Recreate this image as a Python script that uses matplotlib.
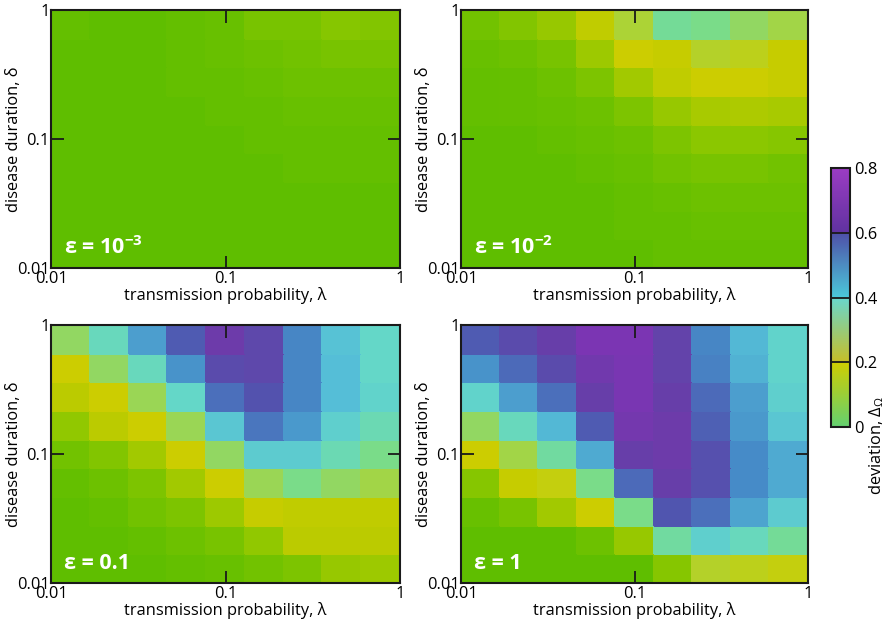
import numpy as np
import matplotlib
matplotlib.use("Agg")
import matplotlib.pyplot as plt
from matplotlib.colors import LinearSegmentedColormap, Normalize
from matplotlib.cm import ScalarMappable

plt.rcParams['font.family'] = ['Open Sans', 'DejaVu Sans']
plt.rcParams['mathtext.fontset'] = 'custom'
plt.rcParams['mathtext.rm'] = 'Open Sans'
plt.rcParams['mathtext.it'] = 'Open Sans:italic'
plt.rcParams['mathtext.bf'] = 'Open Sans:bold'

# ---------------- data (rows: top delta=1 -> bottom delta=0.01; cols: lambda 0.01 -> 1)
lam_edges = np.logspace(-2, 0, 10)
delta_edges = np.logspace(-2, 0, 10)

dev_eps_1e3 = [
    [0.01, 0.00, 0.00, 0.01, 0.02, 0.05, 0.05, 0.08, 0.07],
    [0.00, 0.00, 0.00, 0.01, 0.02, 0.03, 0.04, 0.05, 0.05],
    [0.00, 0.00, 0.00, 0.01, 0.01, 0.02, 0.03, 0.03, 0.03],
    [0.00, 0.00, 0.00, 0.00, 0.01, 0.01, 0.02, 0.02, 0.02],
    [0.00, 0.00, 0.00, 0.00, 0.00, 0.01, 0.01, 0.01, 0.01],
    [0.00, 0.00, 0.00, 0.00, 0.00, 0.00, 0.01, 0.01, 0.01],
    [0.00, 0.00, 0.00, 0.00, 0.00, 0.00, 0.00, 0.00, 0.00],
    [0.00, 0.00, 0.00, 0.00, 0.00, 0.00, 0.00, 0.00, 0.00],
    [0.00, 0.00, 0.00, 0.00, 0.00, 0.00, 0.00, 0.00, 0.00],
]

dev_eps_1e2 = [
    [0.04, 0.07, 0.11, 0.18, 0.24, 0.31, 0.30, 0.27, 0.25],
    [0.02, 0.03, 0.05, 0.12, 0.20, 0.19, 0.23, 0.22, 0.19],
    [0.01, 0.015, 0.03, 0.06, 0.13, 0.18, 0.20, 0.20, 0.19],
    [0.01, 0.015, 0.02, 0.03, 0.06, 0.11, 0.14, 0.15, 0.14],
    [0.00, 0.00, 0.01, 0.02, 0.03, 0.06, 0.09, 0.09, 0.08],
    [0.00, 0.00, 0.00, 0.01, 0.02, 0.04, 0.05, 0.05, 0.04],
    [0.00, 0.00, 0.00, 0.00, 0.01, 0.02, 0.03, 0.03, 0.03],
    [0.00, 0.00, 0.00, 0.00, 0.01, 0.01, 0.02, 0.02, 0.02],
    [0.00, 0.00, 0.00, 0.00, 0.00, 0.01, 0.01, 0.01, 0.01],
]

dev_eps_01 = [
    [0.27, 0.35, 0.47, 0.59, 0.71, 0.65, 0.51, 0.41, 0.36],
    [0.20, 0.27, 0.35, 0.49, 0.64, 0.65, 0.51, 0.42, 0.36],
    [0.17, 0.20, 0.26, 0.36, 0.55, 0.61, 0.51, 0.42, 0.37],
    [0.10, 0.17, 0.20, 0.26, 0.40, 0.54, 0.48, 0.38, 0.34],
    [0.04, 0.07, 0.13, 0.20, 0.27, 0.39, 0.39, 0.34, 0.30],
    [0.01, 0.03, 0.06, 0.13, 0.20, 0.26, 0.30, 0.27, 0.25],
    [0.00, 0.01, 0.04, 0.06, 0.12, 0.19, 0.18, 0.18, 0.18],
    [0.00, 0.00, 0.01, 0.03, 0.05, 0.10, 0.17, 0.17, 0.17],
    [0.00, 0.00, 0.00, 0.01, 0.02, 0.04, 0.06, 0.11, 0.12],
]

dev_eps_1 = [
    [0.59, 0.64, 0.69, 0.77, 0.77, 0.67, 0.51, 0.43, 0.37],
    [0.49, 0.56, 0.64, 0.73, 0.76, 0.67, 0.52, 0.44, 0.37],
    [0.37, 0.47, 0.55, 0.69, 0.76, 0.69, 0.56, 0.47, 0.38],
    [0.27, 0.35, 0.43, 0.59, 0.74, 0.71, 0.58, 0.48, 0.40],
    [0.20, 0.25, 0.32, 0.45, 0.69, 0.71, 0.62, 0.50, 0.45],
    [0.08, 0.19, 0.21, 0.30, 0.56, 0.69, 0.62, 0.50, 0.45],
    [0.02, 0.05, 0.13, 0.20, 0.30, 0.60, 0.55, 0.46, 0.39],
    [0.00, 0.00, 0.00, 0.03, 0.11, 0.32, 0.38, 0.35, 0.31],
    [0.00, 0.00, 0.00, 0.00, 0.00, 0.08, 0.23, 0.22, 0.21],
]

panel_data = [dev_eps_1e3, dev_eps_1e2, dev_eps_01, dev_eps_1]
panel_labels = [r"ε = 10$^{\mathbf{-3}}$", r"ε = 10$^{\mathbf{-2}}$",
                "ε = 0.1", "ε = 1"]
tick_vals = [0.01, 0.1, 1]
tick_labels = ["0.01", "0.1", "1"]
cbar_ticks = [0, 0.2, 0.4, 0.6, 0.8]
cbar_ticklabels = ["0", "0.2", "0.4", "0.6", "0.8"]

# ---------------- colormaps
heat_nodes = [
    (0.00, (95, 190, 0)),
    (0.10, (145, 200, 0)),
    (0.20, (205, 205, 0)),
    (0.30, (120, 220, 140)),
    (0.36, (100, 215, 200)),
    (0.42, (85, 190, 215)),
    (0.50, (70, 140, 200)),
    (0.60, (80, 85, 175)),
    (0.70, (106, 60, 168)),
    (0.80, (130, 50, 184)),
]
heat_cmap = LinearSegmentedColormap.from_list(
    "heat", [(v / 0.8, tuple(c / 255 for c in col)) for v, col in heat_nodes])

# colorbar key: piecewise segments with jumps
cb_nodes = [  # (value, left colour, right colour)
    (0.0, (100, 208, 112), (100, 208, 112)),
    (0.2, (208, 205, 0), (198, 190, 40)),
    (0.4, (105, 215, 205), (75, 200, 218)),
    (0.6, (78, 80, 168), (95, 50, 160)),
    (0.8, (155, 60, 195), (155, 60, 195)),
]
cdict = {k: [] for k in ("red", "green", "blue")}
for v, lc, rc in cb_nodes:
    for i, k in enumerate(("red", "green", "blue")):
        cdict[k].append((v / 0.8, lc[i] / 255, rc[i] / 255))
cb_cmap = LinearSegmentedColormap("cb", cdict)

norm = Normalize(vmin=0, vmax=0.8)

# ---------------- figure
W, H = 889, 629
fig = plt.figure(figsize=(W / 100, H / 100), dpi=100)

def fpos(l, t, r, b):
    return [l / W, 1 - b / H, (r - l) / W, (b - t) / H]

positions = [fpos(51, 10, 400, 268), fpos(461, 10, 808, 268),
             fpos(51, 325, 400, 583), fpos(461, 325, 808, 583)]

FS = 11.8
for pos, data, lab in zip(positions, panel_data, panel_labels):
    ax = fig.add_axes(pos)
    Z = np.array(data)[::-1]
    ax.pcolormesh(lam_edges, delta_edges, Z, cmap=heat_cmap, norm=norm,
                  shading="flat", edgecolors="face", linewidth=0.3)
    ax.set_xscale("log")
    ax.set_yscale("log")
    ax.set_xlim(0.01, 1)
    ax.set_ylim(0.01, 1)
    ax.set_xticks(tick_vals)
    ax.set_xticklabels(tick_labels)
    ax.set_yticks(tick_vals)
    ax.set_yticklabels(tick_labels)
    ax.minorticks_off()
    ax.tick_params(which="major", direction="in", length=9, width=1.3,
                   top=True, right=True, labelsize=FS, pad=1, color="#1a1a1a")
    ax.tick_params(axis="x", pad=2)
    for s in ax.spines.values():
        s.set_linewidth(1.5)
        s.set_color("#1a1a1a")
    ax.set_xlabel("transmission probability, λ", fontsize=FS, labelpad=0)
    ax.set_ylabel("disease duration, δ", fontsize=FS)
    ax.yaxis.set_label_coords(-0.083, 0.5)
    ax.text(0.037, 0.035, lab, transform=ax.transAxes, color="white",
            fontsize=15.5, fontweight="bold", ha="left", va="bottom")

# colorbar
cax = fig.add_axes(fpos(831, 168, 850, 427))
sm = ScalarMappable(norm=norm, cmap=cb_cmap)
cb = fig.colorbar(sm, cax=cax, ticks=cbar_ticks)
cb.ax.set_yticklabels(cbar_ticklabels)
cb.ax.tick_params(length=0, labelsize=FS, pad=3)
cb.outline.set_linewidth(1.5)
cb.outline.set_edgecolor("#1a1a1a")
for v in [0.2, 0.4, 0.6]:
    cax.axhline(v, color="#1a1a1a", linewidth=1.3)
fig.text(877 / W, 1 - 445 / H, r"deviation, $\Delta_{\Omega}$", rotation=90,
         ha="center", va="center", fontsize=FS)

fig.savefig("out.png", dpi=100)
